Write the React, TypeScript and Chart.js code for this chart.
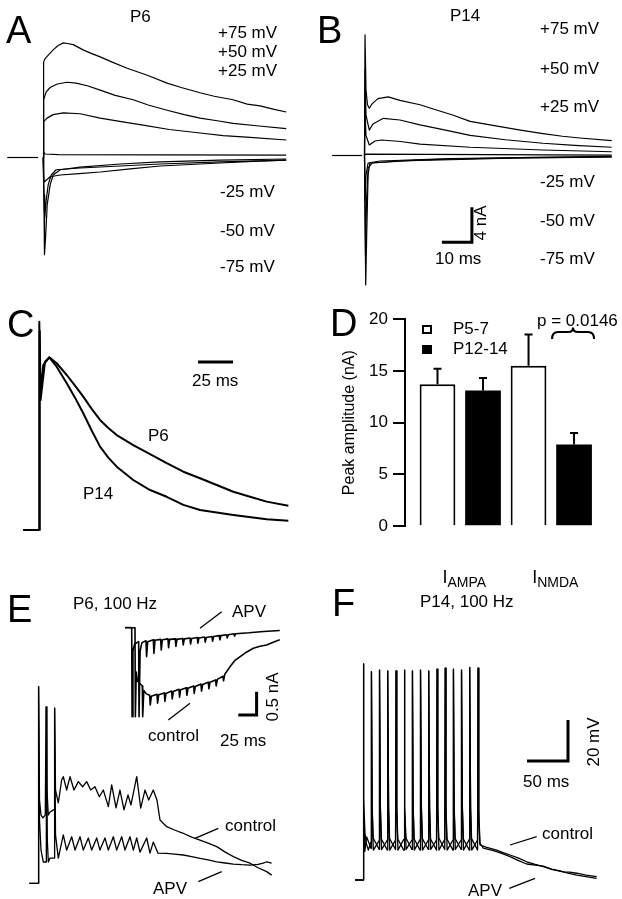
import React, { useEffect, useRef } from "react";
import { Chart, registerables } from "chart.js";
Chart.register(...registerables);

const FONT = "'Liberation Sans', Arial, Helvetica, sans-serif";
Chart.defaults.font.family = FONT;
Chart.defaults.color = "#000";

type Pt = [number, number];

// ---------- Panel A (P6), time in ms, current in nA ----------
const aBase: Pt[] = [[-12, 0], [-1.7, 0]];
const aP75: Pt[] = [[0, 0], [0.1, 0.3], [0.17, 10.9], [0.6, 11.3], [1.7, 11.7], [3.3, 12.3], [5, 12.8], [6.7, 13.1], [8.5, 13.0], [10, 12.9], [13.3, 12.3], [16, 11.9], [19, 11.5], [23, 10.9], [28, 10.2], [34.7, 9.4], [41.3, 8.5], [46, 8.0], [52.3, 7.4], [57, 7.0], [63.3, 6.6], [68, 6.1], [72.3, 5.9], [77, 5.5], [81, 5.2]];
const aP50: Pt[] = [[0, 0], [0.1, 0.3], [0.17, 6.6], [1, 7.5], [2.3, 8.0], [4.7, 8.4], [8, 8.6], [11, 8.5], [14.7, 8.2], [19, 7.7], [24, 7.1], [30, 6.6], [35, 6.0], [41.3, 5.4], [47, 4.9], [52.3, 4.5], [58, 4.2], [63.3, 3.9], [72, 3.6], [81, 3.3]];
const aP25: Pt[] = [[0, 0], [0.1, 0.3], [0.17, 4.1], [1.3, 4.5], [3.3, 4.9], [6.7, 5.1], [12.3, 5.0], [19, 4.5], [26, 4.1], [33.3, 3.7], [42, 3.2], [52.3, 2.8], [60, 2.5], [69, 2.3], [81, 2.0]];
const a0: Pt[] = [[0, 0], [0.1, 0.6], [0.6, 0.4], [5, 0.33], [40, 0.3], [81, 0.28]];
const aM25: Pt[] = [[0, 0], [0.2, -2.0], [0.33, -2.8], [1, -2.6], [2.33, -2.2], [5.67, -2.0], [12, -1.85], [19, -1.66], [29, -1.3], [39, -0.97], [49, -0.8], [59, -0.63], [70, -0.45], [81, -0.29]];
const aM50: Pt[] = [[0, 0], [0.27, -4.3], [0.5, -6.9], [1, -4.9], [1.67, -3.1], [2.67, -2.0], [4.33, -1.4], [12.3, -1.2], [25.7, -0.97], [39, -0.74], [59, -0.51], [81, -0.29]];
const aM75: Pt[] = [[0, 0], [0.27, -6.0], [0.43, -11.1], [0.83, -8.9], [1.33, -5.4], [2.33, -3.1], [3.33, -2.0], [5.67, -1.4], [12.3, -1.1], [25.7, -0.74], [39, -0.51], [59, -0.29], [81, -0.17]];

// ---------- Panel B (P14) ----------
const bBase: Pt[] = [[-10.8, 0], [-0.8, 0]];
const bP75: Pt[] = [[0, 0], [0.17, 13.8], [0.5, 7.5], [1, 5.8], [1.6, 5.4], [2.5, 5.9], [4.5, 6.5], [7.9, 6.7], [11.8, 6.3], [18.5, 5.8], [24, 5.2], [29.6, 4.6], [35.2, 3.9], [45.2, 3.3], [52, 2.9], [59.5, 2.5], [66, 2.2], [71.8, 2.0], [82.4, 1.7]];
const bP50: Pt[] = [[0, 0], [0.17, 9.8], [0.5, 4.6], [1.6, 2.9], [2.8, 3.6], [6.3, 4.25], [11.8, 4.06], [18.5, 3.5], [27, 2.9], [35.2, 2.3], [47, 1.8], [59.5, 1.4], [70, 1.15], [82.4, 0.94]];
const bP25: Pt[] = [[0, 0], [0.17, 5.2], [0.5, 2.3], [1.6, 1.2], [3.5, 1.66], [5.7, 1.77], [12, 1.6], [18.5, 1.31], [35.2, 0.94], [59.5, 0.63], [82.4, 0.43]];
const b0: Pt[] = [[0, 0], [0.2, 0.15], [82.4, 0.05]];
const bM25: Pt[] = [[0, 0], [0.17, -5.1], [0.5, -2.2], [1.2, -0.86], [5.2, -0.63], [28.5, -0.34], [82.4, -0.11]];
const bM50: Pt[] = [[0, 0], [0.33, -11.4], [0.67, -5.1], [1.2, -1.43], [2.5, -0.86], [18.5, -0.51], [51.8, -0.23], [82.4, -0.15]];
const bM75: Pt[] = [[0, 0], [0.4, -14.8], [0.77, -8.5], [1.2, -2.2], [1.8, -0.86], [11.8, -0.63], [45.2, -0.34], [82.4, -0.17]];
const bScaleBar: Pt[] = [[25.8, -9.9], [35.8, -9.9], [35.8, -5.9]]; // 10 ms, 4 nA

// ---------- Panel C (normalized NMDA currents) ----------
const cBase: Pt[] = [[-11.6, 0], [0, 0]];
const cP6: Pt[] = [[0, 0], [0, 1.204], [0.71, 0.809], [2.86, 0.954], [7.14, 0.998], [12.4, 0.964], [19.6, 0.896], [25.5, 0.835], [31.4, 0.771], [37.4, 0.7], [43.4, 0.636], [49.3, 0.59], [55.3, 0.549], [67.1, 0.491], [79.1, 0.439], [91, 0.386], [102.9, 0.337], [114.8, 0.299], [126.7, 0.26], [138.6, 0.221], [150.5, 0.192], [162.4, 0.164], [177.9, 0.14]];
const cP14: Pt[] = [[0, 0], [0.3, 1.15], [0.9, 0.75], [4.07, 0.973], [7.14, 0.998], [12.4, 0.944], [19.6, 0.848], [25.5, 0.765], [31.4, 0.675], [37.4, 0.575], [43.4, 0.482], [49.3, 0.418], [55.3, 0.366], [67.1, 0.289], [79.1, 0.231], [91, 0.192], [102.9, 0.145], [114.8, 0.116], [138.6, 0.087], [162.4, 0.062], [177.9, 0.054]];
const cScaleBar: Pt[] = [[113.4, 0.971], [138.4, 0.971]]; // 25 ms

// ---------- Panel D (bar chart) ----------
const dGroups = ["AMPA", "NMDA"];
const dP5_7 = [13.7, 15.5];
const dP12_14 = [13.1, 7.9];
const dP5_7Err = [1.5, 3.0];
const dP12_14Err = [1.2, 1.1];
const dTicks = [0, 5, 10, 15, 20];
const dSeriesNames = ["P5-7", "P12-14"];
const dPValue = "p = 0.0146";

// ---------- Panel E inset (nA) ----------
const eiBase: Pt[] = [[-9.1, 0], [0, 0]];
const eiAPV: Pt[] = [[0, 0], [0.5, -1.91], [1.7, -0.5], [4, -0.35], [9.5, -0.3], [10, -1.91], [11.5, -0.5], [14, -0.32], [19.5, -0.28], [20.3, -0.62], [21.8, -0.3], [29.5, -0.26], [30.3, -0.55], [31.8, -0.27], [39.5, -0.25], [40.3, -0.48], [41.8, -0.26], [49.5, -0.24], [50.3, -0.43], [51.8, -0.25], [59.5, -0.24], [60.3, -0.4], [61.8, -0.25], [69.5, -0.23], [70.3, -0.37], [71.8, -0.24], [79.5, -0.22], [80.3, -0.35], [81.8, -0.23], [89.5, -0.21], [90.3, -0.33], [91.8, -0.22], [99.5, -0.2], [100.3, -0.31], [101.8, -0.21], [109.5, -0.19], [110.3, -0.29], [111.8, -0.19], [119.5, -0.17], [120.3, -0.26], [121.8, -0.17], [129.5, -0.15], [130.3, -0.22], [131.8, -0.15], [139.5, -0.13], [140.3, -0.18], [141.8, -0.13], [160, -0.11], [180, -0.08], [202, -0.06]];
const eiCtl: Pt[] = [[0, 0], [4.5, 0], [5, -1.91], [6.2, -0.95], [8, -1.15], [14.5, -1.25], [15, -1.91], [16.5, -1.35], [20, -1.42], [24.5, -1.45], [25.3, -1.66], [26.8, -1.47], [34.5, -1.43], [35.3, -1.62], [36.8, -1.44], [44.5, -1.4], [45.3, -1.58], [46.8, -1.41], [54.5, -1.36], [55.3, -1.53], [56.8, -1.37], [64.5, -1.32], [65.3, -1.49], [66.8, -1.33], [74.5, -1.29], [75.3, -1.45], [76.8, -1.3], [84.5, -1.25], [85.3, -1.41], [86.8, -1.26], [94.5, -1.21], [95.3, -1.36], [96.8, -1.22], [104.5, -1.17], [105.3, -1.31], [106.8, -1.17], [114.5, -1.12], [115.3, -1.25], [116.8, -1.11], [124.5, -1.04], [125.3, -1.14], [127, -1.0], [134, -0.84], [141, -0.7], [148, -0.62], [157, -0.52], [166, -0.44], [175, -0.4], [184, -0.37], [193, -0.31], [202, -0.26]];
const eiScaleBar: Pt[] = [[145.4, -1.873], [170.4, -1.873], [170.4, -1.373]]; // 25 ms, 0.5 nA

// ---------- Panel E main (mV) ----------
const eCtl: Pt[] = [[-11, 0], [0, 0], [0.37, 95.9], [1.46, 40.6], [3.3, 33.3], [5.7, 31.9], [8.5, 33.3], [9.1, 33.3], [9.5, 86.1], [10.6, 45.5], [12.2, 33.3], [14.3, 34.8], [18.5, 35.8], [19.5, 35.8], [19.9, 85.4], [21, 45.5], [24.4, 39.2], [28.5, 50.4], [30.5, 52], [34.6, 45.5], [38.7, 52], [43.5, 45.5], [48.8, 49.6], [54.1, 47.1], [59, 49.6], [63.9, 45.5], [69.1, 47.1], [74.4, 42.2], [79.3, 45.5], [85.4, 37.4], [89.5, 48], [94.8, 36.8], [99.6, 45.5], [104.5, 35.8], [109.4, 43.1], [113, 38.2], [120, 52], [124.9, 36.7], [130.1, 45.5], [134.6, 40.6], [140.2, 45.5], [144.7, 40.6], [148.4, 30.9], [156.6, 27.6], [166, 26], [176.8, 24.4], [187, 22.5], [197.2, 21.1], [207, 19.6], [217.6, 17.9], [228, 15.2], [237.9, 13], [248, 11.2], [258.3, 9.8], [268, 7.6], [278.5, 5.7], [284.6, 4]];
const eAPV: Pt[] = [[-11, 0], [0, 0], [0.37, 95.9], [1.46, 30.9], [3.3, 16.2], [6.1, 10.4], [9.4, 10.4], [9.8, 86.1], [11, 21.1], [12.2, 10.4], [14.3, 12.3], [18.5, 12.3], [19.5, 12.3], [19.9, 85.4], [21, 23.6], [24.4, 12.3], [30.5, 23.6], [34.6, 16.2], [40.7, 22.7], [44.8, 16.2], [50.9, 22.7], [54.9, 16.2], [61, 22.1], [65.1, 16.2], [71.2, 22.1], [75.2, 16.2], [81.3, 22.1], [85.4, 16.2], [91.5, 22.7], [95.6, 16.2], [101.7, 22.7], [105.7, 16.2], [111.8, 22.7], [115.9, 16.2], [120, 22.1], [124, 15.2], [132.2, 22.1], [136.2, 14.7], [140.2, 20.1], [146, 14.7], [156.6, 14.6], [166, 14.2], [176.8, 13.8], [187, 13], [197.2, 12.2], [207, 11.4], [217.6, 10.5], [228, 9.9], [237.9, 9.4], [248, 9.1], [258.3, 8.9], [268, 9.2], [274.4, 9.8], [278.5, 10.5], [284.6, 9.8]];

// ---------- Panel F (mV) ----------
const fCtl: Pt[] = [[-9.8, 0], [0, 0], [0.3, 105.4], [1.2, 40], [2.4, 22.8], [4, 18], [6.5, 14.6], [9.7, 18.5],
  [10, 18.5], [10.3, 101.6], [11.2, 34], [12.6, 14.6], [19.7, 19.2],
  [20, 19.2], [20.3, 102.4], [21.2, 34], [22.6, 14.8], [29.7, 19.5],
  [30, 19.5], [30.3, 102], [31.2, 34], [32.6, 14.6], [39.7, 19.5],
  [40, 19.5], [40.3, 102], [41.2, 34], [42.6, 14.6], [49.7, 19.8],
  [50, 19.8], [50.3, 102.4], [51.2, 34], [52.6, 14.9], [59.7, 19.5],
  [60, 19.5], [60.3, 102], [61.2, 34], [62.6, 14.6], [69.7, 19.8],
  [70, 19.8], [70.3, 102.4], [71.2, 34], [72.6, 14.6], [79.7, 19.5],
  [80, 19.5], [80.3, 102], [81.2, 34], [82.6, 14.9], [89.7, 19.5],
  [90, 19.5], [90.3, 102.8], [91.2, 34], [92.6, 14.6], [99.7, 19.8],
  [100, 19.8], [100.3, 103.3], [101.2, 34], [102.6, 14.6], [109.7, 19.5],
  [110, 19.5], [110.3, 102.8], [111.2, 34], [112.6, 14.9], [119.7, 19.5],
  [120, 19.5], [120.3, 102.4], [121.2, 34], [122.6, 14.6], [129.7, 19.8],
  [130, 19.8], [130.3, 103.7], [131.2, 34], [132.6, 14.6], [139.7, 19.5],
  [140, 19.5], [140.3, 103.3], [141.2, 34], [142.7, 17.1], [150, 16], [163, 14.6], [170, 13.5], [179.3, 12.2], [189, 10.8], [199.6, 8.9], [210, 7.6], [219.9, 6.5], [230, 5.2], [244.3, 4.0], [252, 3.8], [260.6, 3.3], [272, 2.4], [285, 1.6]];
const fAPV: Pt[] = [[-9.8, 0], [0, 0], [0.3, 105.4], [1.2, 32], [2.2, 14], [4.5, 21], [9.7, 15.5],
  [10, 15.5], [10.3, 101.6], [11.2, 36], [12.4, 20.5], [19.7, 14.9],
  [20, 14.9], [20.3, 102.4], [21.2, 36], [22.4, 20], [29.7, 14.6],
  [30, 14.6], [30.3, 102], [31.2, 36], [32.4, 20.2], [39.7, 14.9],
  [40, 14.9], [40.3, 102], [41.2, 36], [42.4, 20], [49.7, 14.6],
  [50, 14.6], [50.3, 102.4], [51.2, 36], [52.4, 20.5], [59.7, 14.9],
  [60, 14.9], [60.3, 102], [61.2, 36], [62.4, 20], [69.7, 14.6],
  [70, 14.6], [70.3, 102.4], [71.2, 36], [72.4, 20.2], [79.7, 14.9],
  [80, 14.9], [80.3, 102], [81.2, 36], [82.4, 20], [89.7, 14.6],
  [90, 14.6], [90.3, 102.8], [91.2, 36], [92.4, 20.5], [99.7, 14.9],
  [100, 14.9], [100.3, 103.3], [101.2, 36], [102.4, 20], [109.7, 14.6],
  [110, 14.6], [110.3, 102.8], [111.2, 36], [112.4, 20.2], [119.7, 14.9],
  [120, 14.9], [120.3, 102.4], [121.2, 36], [122.4, 20], [129.7, 14.6],
  [130, 14.6], [130.3, 103.7], [131.2, 36], [132.4, 20.2], [139.7, 14.6],
  [140, 14.6], [140.3, 103.3], [141.2, 30], [142.5, 18], [146.7, 15.5], [160, 14.2], [170, 12.9], [179.3, 11.4], [189, 9.6], [199.6, 7.8], [210, 7.3], [219.9, 6.8], [230, 5.3], [240, 4.5], [250, 3.4], [260.6, 2.4], [272, 1.6], [285, 0.8]];
const fScaleBar: Pt[] = [[200, 58], [250, 58], [250, 78]]; // 50 ms, 20 mV

// ---------- generic trace chart ----------
type Series = { pts: Pt[]; w: number };
type Frame = { x: number; y: number; w: number; h: number; ox: number; kx: number; oy: number; ky: number };

function TraceChart({ f, series }: { f: Frame; series: Series[] }) {
  const ref = useRef<HTMLCanvasElement | null>(null);
  useEffect(() => {
    const c = ref.current;
    if (!c) return;
    const chart = new Chart(c, {
      type: "scatter",
      data: {
        datasets: series.map((s) => ({
          data: s.pts.map(([x, y]) => ({ x, y })),
          showLine: true,
          borderColor: "#000",
          backgroundColor: "#000",
          borderWidth: s.w,
          pointRadius: 0,
          pointHoverRadius: 0,
          tension: 0,
          borderJoinStyle: s.w >= 3 ? "miter" : "round",
          borderCapStyle: "butt",
          clip: false,
        })),
      },
      options: {
        responsive: false,
        animation: false,
        events: [],
        layout: { padding: 0 },
        plugins: { legend: { display: false }, tooltip: { enabled: false } },
        scales: {
          x: { type: "linear", display: false, min: (f.x - f.ox) / f.kx, max: (f.x + f.w - f.ox) / f.kx },
          y: { type: "linear", display: false, min: (f.oy - (f.y + f.h)) / f.ky, max: (f.oy - f.y) / f.ky },
        },
      },
    } as any);
    return () => chart.destroy();
  }, []);
  return (
    <canvas ref={ref} width={f.w} height={f.h}
      style={{ position: "absolute", left: f.x, top: f.y, width: f.w, height: f.h }} />
  );
}

// ---------- bar chart (panel D) ----------
const dExtras = {
  id: "dExtras",
  afterDatasetsDraw(chart: any) {
    const { ctx, chartArea: a, scales } = chart;
    const y = scales.y;
    const x = scales.x;
    ctx.save();
    ctx.strokeStyle = "#000";
    ctx.fillStyle = "#000";
    ctx.lineWidth = 2;
    // error bars (upper only)
    const vals = [dP5_7, dP12_14];
    const errs = [dP5_7Err, dP12_14Err];
    [0, 1].forEach((di) => {
      chart.getDatasetMeta(di).data.forEach((bar: any, j: number) => {
        const top = y.getPixelForValue(vals[di][j] + errs[di][j]);
        ctx.beginPath();
        ctx.moveTo(bar.x, bar.y);
        ctx.lineTo(bar.x, top);
        ctx.moveTo(bar.x - 4, top);
        ctx.lineTo(bar.x + 4, top);
        ctx.stroke();
      });
    });
    // legend
    ctx.strokeRect(a.left + 18, a.top + 7, 8, 7);
    ctx.fillRect(a.left + 17, a.top + 26, 10, 9);
    ctx.font = `17px ${FONT}`;
    ctx.textBaseline = "middle";
    ctx.textAlign = "left";
    ctx.fillText(dSeriesNames[0], a.left + 48, a.top + 10);
    ctx.fillText(dSeriesNames[1], a.left + 48, a.top + 30);
    // p value
    ctx.fillText(dPValue, a.left + 132, a.top + 2);
    // brace over the P12-14 NMDA bar
    const b = chart.getDatasetMeta(1).data[1];
    const cx = b.x - 1, l = cx - 21, r = cx + 21;
    const yEnd = a.top + 20, yMid = a.top + 13, yPk = a.top + 8.5;
    ctx.beginPath();
    ctx.moveTo(l, yEnd);
    ctx.quadraticCurveTo(l, yMid, l + 6, yMid);
    ctx.lineTo(cx - 5, yMid);
    ctx.quadraticCurveTo(cx, yMid, cx, yPk);
    ctx.quadraticCurveTo(cx, yMid, cx + 5, yMid);
    ctx.lineTo(r - 6, yMid);
    ctx.quadraticCurveTo(r, yMid, r, yEnd);
    ctx.stroke();
    // category labels I_AMPA / I_NMDA
    dGroups.forEach((g, i) => {
      const px = x.getPixelForValue(i + 1) + 4;
      ctx.font = `18px ${FONT}`;
      const wI = ctx.measureText("I").width;
      ctx.font = `14px ${FONT}`;
      const wS = ctx.measureText(g).width;
      const start = px - (wI + wS) / 2;
      const base = a.bottom + 57;
      ctx.textBaseline = "alphabetic";
      ctx.font = `18px ${FONT}`;
      ctx.fillText("I", start, base);
      ctx.font = `14px ${FONT}`;
      ctx.fillText(g, start + wI, base + 4);
    });
    ctx.restore();
  },
};

function BarChartD() {
  const ref = useRef<HTMLCanvasElement | null>(null);
  useEffect(() => {
    const c = ref.current;
    if (!c) return;
    const chart = new Chart(c, {
      type: "bar",
      data: {
        datasets: [
          {
            label: dSeriesNames[0],
            data: dP5_7.map((v, i) => ({ x: i + 1, y: v })),
            backgroundColor: "#fff",
            borderColor: "#000",
            borderWidth: 2,
            categoryPercentage: 1,
            barPercentage: 0.785,
          },
          {
            label: dSeriesNames[1],
            data: dP12_14.map((v, i) => ({ x: i + 1, y: v })),
            backgroundColor: "#000",
            borderColor: "#000",
            borderWidth: 0,
            categoryPercentage: 1,
            barPercentage: 0.785,
          },
        ],
      },
      options: {
        responsive: false,
        animation: false,
        events: [],
        layout: { padding: { top: 19, bottom: 73.7, left: 0, right: 17 } },
        plugins: { legend: { display: false }, tooltip: { enabled: false } },
        scales: {
          x: {
            type: "linear",
            display: false,
            offset: false,
            min: 0.393,
            max: 2.59,
            ticks: { includeBounds: false, stepSize: 1 },
            afterBuildTicks: (s: any) => {
              s.ticks = dGroups.map((_, i) => ({ value: i + 1 }));
            },
          },
          y: {
            type: "linear",
            min: 0,
            max: 20,
            afterFit: (s: any) => {
              s.width = 80;
            },
            afterBuildTicks: (s: any) => {
              s.ticks = dTicks.map((v) => ({ value: v }));
            },
            ticks: { color: "#000", font: { size: 17, family: FONT }, padding: 5 },
            grid: { drawOnChartArea: false, drawTicks: true, tickLength: 12, color: "#000", lineWidth: 2 },
            border: { display: true, color: "#000", width: 2 },
            title: {
              display: true,
              text: "Peak amplitude (nA)",
              color: "#000",
              font: { size: 16, family: FONT },
              padding: { top: 15, bottom: 0 },
            },
          },
        },
      },
      plugins: [dExtras],
    } as any);
    return () => chart.destroy();
  }, []);
  return (
    <canvas ref={ref} width={297} height={300}
      style={{ position: "absolute", left: 325, top: 300, width: 297, height: 300 }} />
  );
}

// ---------- labels ----------
type Lab = { t: string; x: number; y: number; s?: number; r?: boolean };
const labels: Lab[] = [
  { t: "A", x: 6, y: 30, s: 38 },
  { t: "P6", x: 130, y: 16 },
  { t: "+75 mV", x: 218, y: 32 },
  { t: "+50 mV", x: 218, y: 51 },
  { t: "+25 mV", x: 218, y: 70 },
  { t: "-25 mV", x: 220, y: 191.7 },
  { t: "-50 mV", x: 220, y: 230 },
  { t: "-75 mV", x: 220, y: 266.7 },
  { t: "B", x: 317, y: 30, s: 38 },
  { t: "P14", x: 450, y: 15 },
  { t: "+75 mV", x: 540, y: 28.3 },
  { t: "+50 mV", x: 540, y: 68.3 },
  { t: "+25 mV", x: 540, y: 106.7 },
  { t: "-25 mV", x: 540, y: 181.7 },
  { t: "-50 mV", x: 540, y: 220 },
  { t: "-75 mV", x: 540, y: 258.3 },
  { t: "10 ms", x: 435, y: 258.3 },
  { t: "4 nA", x: 480, y: 223, r: true },
  { t: "C", x: 7, y: 324, s: 38 },
  { t: "25 ms", x: 192, y: 380 },
  { t: "P6", x: 148, y: 435 },
  { t: "P14", x: 83, y: 493 },
  { t: "D", x: 330, y: 323, s: 38 },
  { t: "E", x: 7, y: 609, s: 38 },
  { t: "P6, 100 Hz", x: 73, y: 603.3 },
  { t: "APV", x: 232, y: 611 },
  { t: "control", x: 148, y: 735 },
  { t: "25 ms", x: 220, y: 740 },
  { t: "0.5 nA", x: 272, y: 696.7, r: true },
  { t: "control", x: 225, y: 825 },
  { t: "APV", x: 153, y: 888.3 },
  { t: "F", x: 332, y: 602.5, s: 38 },
  { t: "P14, 100 Hz", x: 420, y: 601.7 },
  { t: "20 mV", x: 593, y: 741.7, r: true },
  { t: "50 ms", x: 523, y: 781.7 },
  { t: "control", x: 542, y: 833.3 },
  { t: "APV", x: 468, y: 890 },
];

const pointers: [number, number, number, number][] = [
  [200, 628.3, 221.7, 611.7],
  [168.3, 720, 190, 703.3],
  [195, 838.3, 218.3, 828.3],
  [198.3, 881.7, 221.7, 871.7],
  [510, 845, 536.7, 836.7],
  [509.3, 888.3, 535, 878.3],
];

function Label({ t, x, y, s = 17, r = false }: Lab) {
  const base: React.CSSProperties = {
    position: "absolute",
    fontSize: s,
    lineHeight: 1,
    whiteSpace: "nowrap",
    color: "#000",
    fontFamily: FONT,
  };
  if (r)
    return <div style={{ ...base, left: x, top: y, transform: "translate(-50%,-50%) rotate(-90deg)" }}>{t}</div>;
  return <div style={{ ...base, left: x, top: y - 0.4885 * s }}>{t}</div>;
}

const frameA: Frame = { x: 0, y: 0, w: 310, h: 300, ox: 43.2, kx: 3, oy: 157.5, ky: 8.75 };
const frameB: Frame = { x: 310, y: 0, w: 312, h: 300, ox: 364.5, kx: 3, oy: 155.5, ky: 8.75 };
const frameC: Frame = { x: 0, y: 300, w: 310, h: 250, ox: 39.3, kx: 1.4, oy: 530, ky: 173 };
const frameEi: Frame = { x: 110, y: 595, w: 190, h: 150, ox: 131.7, kx: 0.733, oy: 627.7, ky: 46.6 };
const frameE: Frame = { x: 0, y: 640, w: 310, h: 259, ox: 38.3, kx: 0.82, oy: 883.3, ky: 2.05 };
const frameF: Frame = { x: 320, y: 640, w: 302, h: 259, ox: 363, kx: 0.82, oy: 880, ky: 2.05 };

export default function App() {
  return (
    <div style={{ position: "absolute", left: 0, top: 0, width: 622, height: 899, background: "#fff", overflow: "hidden", fontFamily: FONT }}>
      <TraceChart f={frameA} series={[aBase, aP75, aP50, aP25, a0, aM25, aM50, aM75].map((pts) => ({ pts, w: 1.2 }))} />
      <TraceChart f={frameB} series={[...[bBase, bP75, bP50, bP25, b0, bM25, bM50, bM75].map((pts) => ({ pts, w: 1.2 })), { pts: bScaleBar, w: 3 }]} />
      <TraceChart f={frameC} series={[{ pts: cBase, w: 2 }, { pts: cP6, w: 2 }, { pts: cP14, w: 2 }, { pts: cScaleBar, w: 3 }]} />
      <BarChartD />
      <TraceChart f={frameEi} series={[{ pts: eiBase, w: 1.8 }, { pts: eiAPV, w: 1.6 }, { pts: eiCtl, w: 1.6 }, { pts: eiScaleBar, w: 3 }]} />
      <TraceChart f={frameE} series={[{ pts: eCtl, w: 1.3 }, { pts: eAPV, w: 1.3 }]} />
      <TraceChart f={frameF} series={[{ pts: fCtl, w: 1.3 }, { pts: fAPV, w: 1.3 }, { pts: fScaleBar, w: 3 }]} />
      {labels.map((l, i) => (
        <Label key={i} {...l} />
      ))}
      <svg width={622} height={899} style={{ position: "absolute", left: 0, top: 0 }}>
        {pointers.map(([x1, y1, x2, y2], i) => (
          <line key={i} x1={x1} y1={y1} x2={x2} y2={y2} stroke="#000" strokeWidth={1.3} />
        ))}
      </svg>
    </div>
  );
}
